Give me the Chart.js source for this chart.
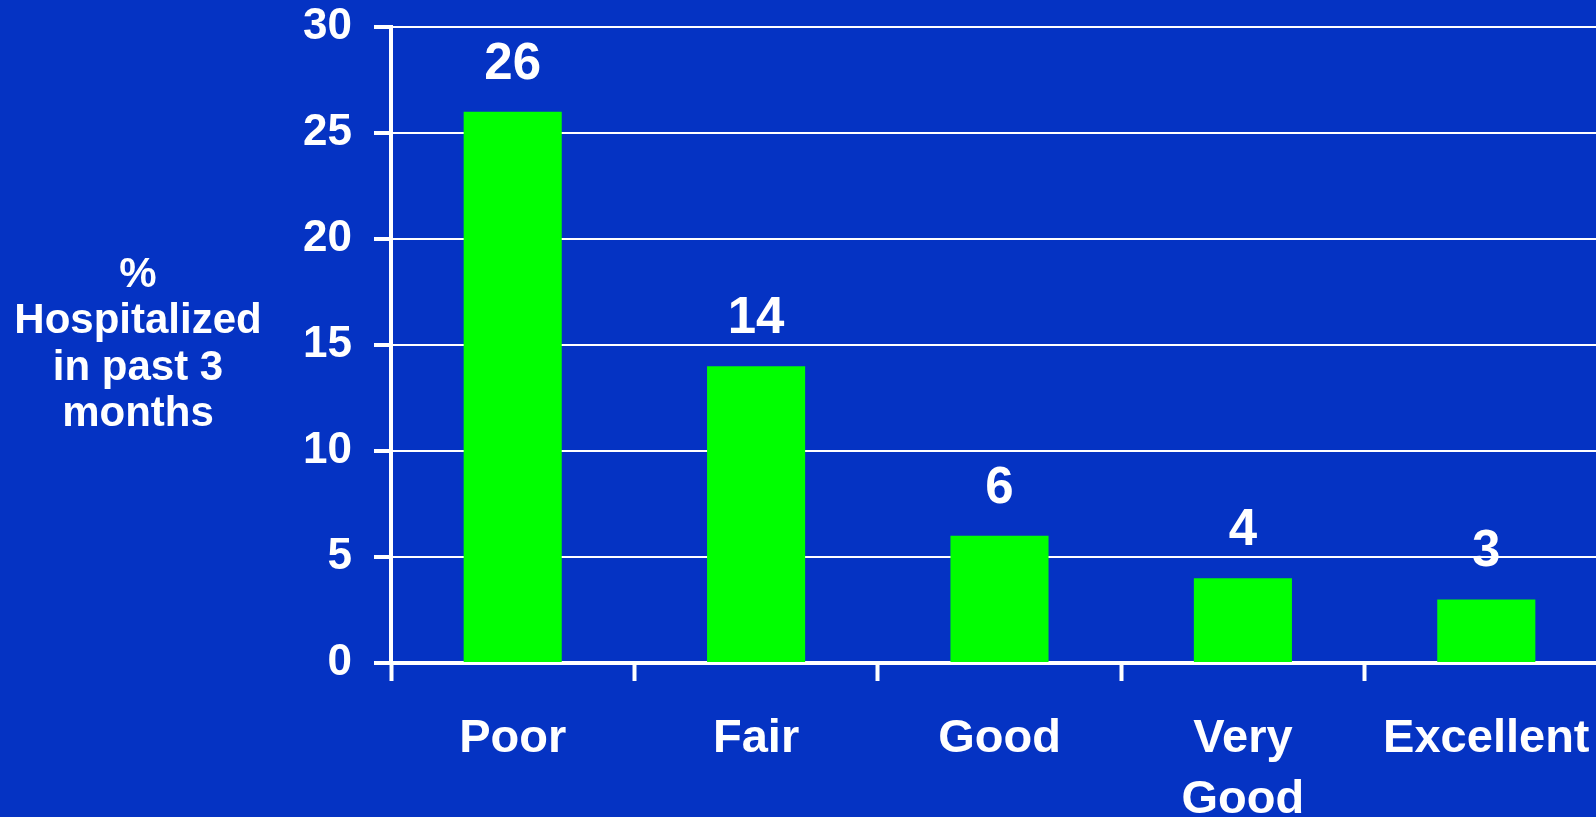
<!DOCTYPE html>
<html>
<head>
<meta charset="utf-8">
<script src="https://cdn.jsdelivr.net/npm/chart.js@4.4.1/dist/chart.umd.min.js"></script>
<style>
  html, body { margin: 0; padding: 0; background: #0533c3; overflow: hidden; }
  #wrap { width: 1608px; height: 817px; position: relative; }
</style>
</head>
<body>
<div id="wrap"><canvas id="hospChart"></canvas></div>
<script>
const categories = ['Poor', 'Fair', 'Good', ['Very', 'Good'], 'Excellent'];
const hospitalized = [26, 14, 6, 4, 3];
const yTicks = { min: 0, max: 30, step: 5 };
const yTitleLines = ['%', 'Hospitalized', 'in past 3', 'months'];

const FONT = '"Liberation Sans", Arial, sans-serif';

// value labels over each bar
const valueLabels = {
  id: 'valueLabels',
  afterDatasetsDraw(chart) {
    const ctx = chart.ctx;
    const meta = chart.getDatasetMeta(0);
    ctx.save();
    ctx.fillStyle = '#ffffff';
    ctx.font = 'bold 51px ' + FONT;
    ctx.textAlign = 'center';
    ctx.textBaseline = 'alphabetic';
    meta.data.forEach((bar, i) => {
      ctx.fillText(String(hospitalized[i]), bar.x, bar.y - 33);
    });
    ctx.restore();
  }
};

// horizontal y-axis title on the left
const sideTitle = {
  id: 'sideTitle',
  afterDraw(chart) {
    const ctx = chart.ctx;
    const area = chart.chartArea;
    const mid = (area.top + area.bottom) / 2;
    const lineH = 46.4;
    ctx.save();
    ctx.fillStyle = '#ffffff';
    ctx.font = 'bold 42px ' + FONT;
    ctx.textAlign = 'center';
    ctx.textBaseline = 'alphabetic';
    const first = mid - 58;
    yTitleLines.forEach((t, i) => {
      ctx.fillText(t, 138, first + i * lineH);
    });
    ctx.restore();
  }
};

const ctx = document.getElementById('hospChart').getContext('2d');
new Chart(ctx, {
  type: 'bar',
  data: {
    labels: categories,
    datasets: [{
      data: hospitalized,
      backgroundColor: '#00ff00',
      borderWidth: 0,
      barPercentage: 0.403,
      categoryPercentage: 1
    }]
  },
  options: {
    responsive: true,
    maintainAspectRatio: false,
    animation: false,
    layout: { padding: { top: 27, right: 0, bottom: 0, left: 0 } },
    plugins: {
      legend: { display: false },
      tooltip: { enabled: false }
    },
    scales: {
      x: {
        afterFit: (scale) => {
          scale.height = 154;
          scale.paddingLeft = 0;
          scale.paddingRight = 0;
        },
        border: { display: true, color: '#ffffff', width: 4 },
        grid: {
          offset: true,
          drawOnChartArea: false,
          drawTicks: true,
          tickLength: 18,
          tickWidth: 4,
          tickColor: '#ffffff'
        },
        ticks: {
          color: '#ffffff',
          font: { family: FONT, size: 47, weight: 'bold', lineHeight: 1.31 },
          padding: 27,
          maxRotation: 0,
          autoSkip: false
        }
      },
      y: {
        min: yTicks.min,
        max: yTicks.max,
        afterFit: (scale) => {
          scale.width = 391;
          scale.paddingTop = 0;
          scale.paddingBottom = 0;
        },
        border: { display: true, color: '#ffffff', width: 4 },
        grid: {
          color: '#ffffff',
          lineWidth: 2,
          drawTicks: true,
          tickLength: 17,
          tickWidth: 4,
          tickColor: '#ffffff'
        },
        ticks: {
          stepSize: yTicks.step,
          color: '#ffffff',
          font: { family: FONT, size: 44, weight: 'bold' },
          padding: 22
        }
      }
    }
  },
  plugins: [valueLabels, sideTitle]
});
</script>
</body>
</html>
